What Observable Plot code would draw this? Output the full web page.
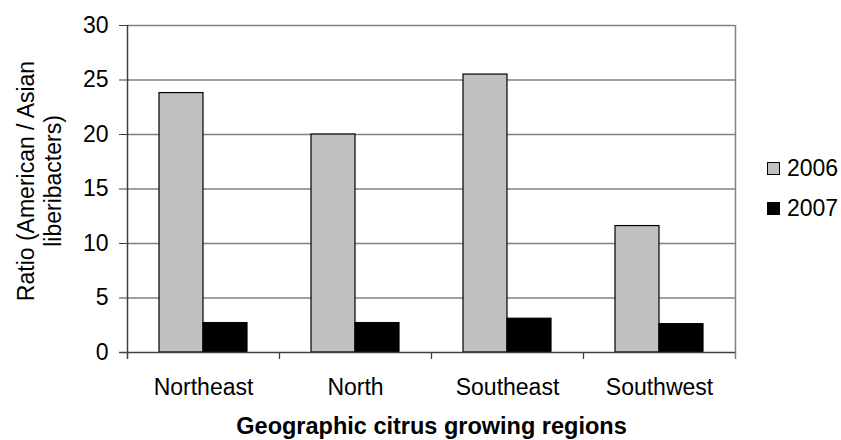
<!DOCTYPE html>
<html>
<head>
<meta charset="utf-8">
<script src="https://cdn.jsdelivr.net/npm/d3@7"></script>
<script src="https://cdn.jsdelivr.net/npm/@observablehq/plot@0.6"></script>
<style>
  body { margin: 0; background: #fff; font-family: "Liberation Sans", Arial, sans-serif; }
  #wrap { position: relative; width: 841px; height: 440px; }
  .legend { position: absolute; left: 767px; top: 148px; font-size: 23px; color: #000; }
  .item { display: flex; align-items: center; height: 40px; }
  .sw { width: 11px; height: 11px; border: 1px solid #000; margin-right: 7px; }
</style>
</head>
<body>
<div id="wrap"></div>
<script>
// ---- data ----
const regions = ["Northeast", "North", "Southeast", "Southwest"];
const years = ["2006", "2007"];
const v2006 = [23.8, 20.0, 25.5, 11.6];
const v2007 = [2.7, 2.7, 3.1, 2.6];
const yTicks = [0, 5, 10, 15, 20, 25, 30];
const yTitle = "Ratio (American / Asian\nliberibacters)";
const xTitle = "Geographic citrus growing regions";
const colors = {"2006": "#c0c0c0", "2007": "#000000"};

const rows = regions.map((r, i) => ({region: r, v2006: v2006[i], v2007: v2007[i]}));

const half = (841 - 127 - 106) / regions.length / 2;

const chart = Plot.plot({
  width: 841,
  height: 440,
  marginLeft: 127,
  marginRight: 106,
  marginTop: 25,
  marginBottom: 88,
  style: {fontFamily: "'Liberation Sans', Arial, sans-serif", fontSize: "23px", color: "#000", background: "#fff"},
  x: {type: "band", domain: regions, padding: 0},
  y: {domain: [0, 30]},
  marks: [
    // gridlines
    Plot.ruleY(yTicks.filter(d => d > 0), {y: d => d, stroke: "#808080", strokeWidth: 1.3}),
    // bars
    Plot.barY(rows, {x: "region", y: "v2006", fill: colors["2006"], stroke: "#000", strokeWidth: 1.2, insetLeft: 32, insetRight: 76}),
    Plot.barY(rows, {x: "region", y: "v2007", fill: colors["2007"], stroke: "#000", strokeWidth: 1.2, insetLeft: 76, insetRight: 32}),
    // category boundary ticks
    Plot.ruleX(regions.slice(0, -1), {x: d => d, dx: half, stroke: "#404040", strokeWidth: 1.3, insetTop: 327, insetBottom: -7}),
    // right border
    Plot.ruleX(regions.slice(-1), {x: d => d, dx: half, stroke: "#808080", strokeWidth: 1.5, insetBottom: -7}),
    // y axis line
    Plot.ruleX(regions.slice(0, 1), {x: d => d, dx: -half, stroke: "#404040", strokeWidth: 1.5, insetBottom: -7}),
    // x axis line
    Plot.ruleY([0], {stroke: "#404040", strokeWidth: 1.5, insetLeft: -8}),
    Plot.axisY({ticks: yTicks, tickSize: 8, tickPadding: 11, fontSize: 23, label: null, stroke: "#404040"}),
    Plot.axisX({tickSize: 0, tickPadding: 26, fontSize: 23, label: null}),
    Plot.text([yTitle], {frameAnchor: "left", rotate: -90, dx: -89, dy: -8, fontSize: 23, lineHeight: 1.2, textAnchor: "middle", lineAnchor: "middle", fill: "#000"}),
    Plot.text([xTitle], {frameAnchor: "bottom", dy: 74, fontSize: 23.5, fontWeight: "bold", textAnchor: "middle", lineAnchor: "middle", fill: "#000"})
  ]
});

const wrap = document.getElementById("wrap");
wrap.appendChild(chart);

const legend = document.createElement("div");
legend.className = "legend";
years.forEach(y => {
  const item = document.createElement("div");
  item.className = "item";
  const sw = document.createElement("span");
  sw.className = "sw";
  sw.style.background = colors[y];
  const lab = document.createElement("span");
  lab.textContent = y;
  item.appendChild(sw);
  item.appendChild(lab);
  legend.appendChild(item);
});
wrap.appendChild(legend);
</script>
</body>
</html>
